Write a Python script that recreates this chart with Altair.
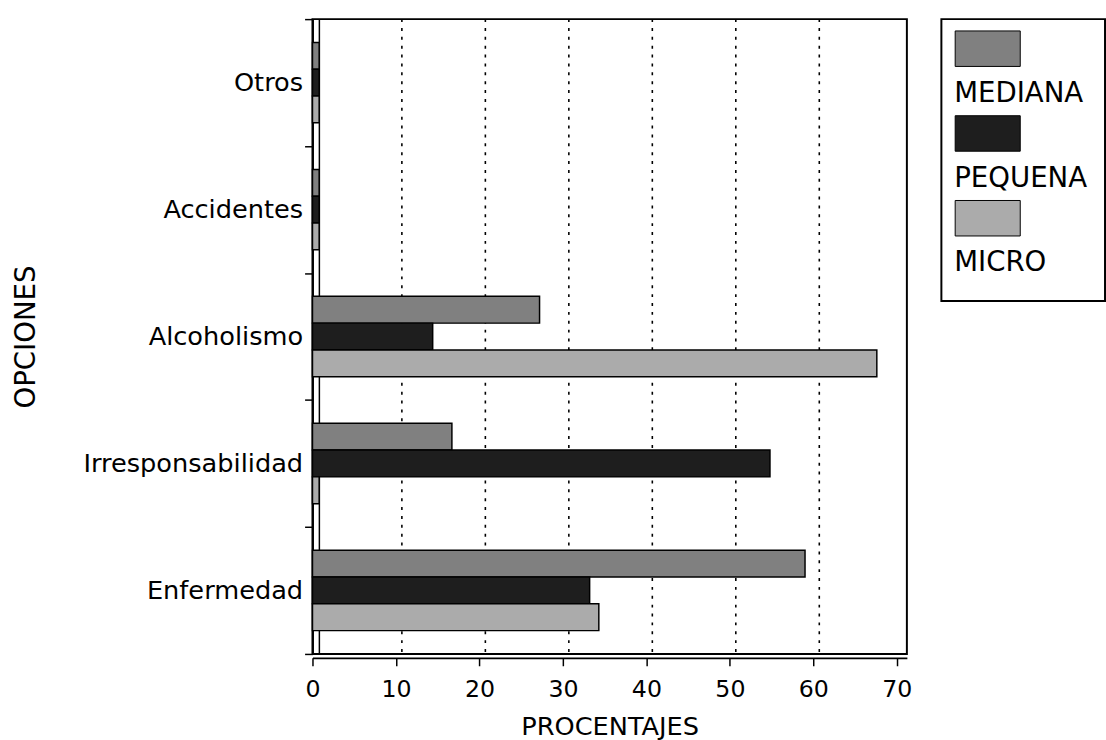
import altair as alt
import pandas as pd

# ---- data ----
categories = ["Otros", "Accidentes", "Alcoholismo", "Irresponsabilidad", "Enfermedad"]
series = ["MEDIANA", "PEQUENA", "MICRO"]
mediana = [0.8, 0.8, 27.2, 16.7, 59.0]
pequena = [0.8, 0.8, 14.4, 54.8, 33.2]
micro = [0.8, 0.8, 67.6, 0.8, 34.3]
x_ticks = [0, 10, 20, 30, 40, 50, 60, 70]
grid_values = [10, 20, 30, 40, 50, 60]
colors = ["#808080", "#1e1e1e", "#ababab"]

FONT = "DejaVu Sans"

rows = []
for s, vals in zip(series, [mediana, pequena, micro]):
    for c, v in zip(categories, vals):
        rows.append({"opcion": c, "serie": s, "pct": v})
df = pd.DataFrame(rows)

xscale = alt.Scale(domain=[0, 71.2], nice=False, zero=True)
color_scale = alt.Scale(domain=series, range=colors)

x_axis = alt.Axis(
    values=x_ticks,
    grid=False,
    title="PROCENTAJES",
    titleFont=FONT,
    titleFontSize=26,
    titleFontWeight="normal",
    titleColor="black",
    titlePadding=13,
    labelFont=FONT,
    labelFontSize=24,
    labelColor="black",
    labelPadding=12,
    labelFlush=False,
    tickSize=8,
    tickColor="black",
    tickWidth=1.5,
    domainColor="black",
    domainWidth=2,
    offset=4,
)

grid = alt.Chart(pd.DataFrame({"v": grid_values})).mark_rule(
    color="black", strokeDash=[3, 6], strokeWidth=1.6, xOffset=6
).encode(x=alt.X("v:Q", scale=xscale, axis=x_axis))

frame_left = alt.Chart(pd.DataFrame({"v": [0]})).mark_rule(
    color="black", strokeWidth=1.5, xOffset=7
).encode(x=alt.X("v:Q", scale=xscale, axis=x_axis))

bars = alt.Chart(df).mark_bar(stroke="black", strokeWidth=1.5).encode(
    y=alt.Y(
        "opcion:N",
        sort=categories,
        scale=alt.Scale(paddingInner=0, paddingOuter=0),
        axis=alt.Axis(
            title="OPCIONES",
            titleFont=FONT,
            titleFontSize=28,
            titleFontWeight="normal",
            titleColor="black",
            titleX=-290,
            titleBaseline="middle",
            labelFont=FONT,
            labelFontSize=26,
            labelColor="black",
            labelPadding=2,
            labelLimit=400,
            tickBand="extent",
            tickSize=8,
            tickColor="black",
            tickWidth=1.5,
            domainColor="black",
            domainWidth=2,
            offset=0,
        ),
    ),
    yOffset=alt.YOffset(
        "serie:N", sort=series, scale=alt.Scale(paddingInner=0, paddingOuter=0.87)
    ),
    x=alt.X("pct:Q", scale=xscale, axis=x_axis),
    color=alt.Color("serie:N", scale=color_scale, legend=None),
)

main = alt.layer(grid, frame_left, bars).properties(width=603, height=644)

# ---- custom legend (swatch above label) ----
leg_df = pd.DataFrame({"serie": series})
leg_y = alt.Scale(type="point", domain=series, range=[30, 202], padding=0)

swatch = alt.Chart(leg_df).mark_bar(height=36, stroke="black", strokeWidth=1).encode(
    y=alt.Y("serie:N", sort=series, scale=leg_y, axis=None),
    x=alt.value(14),
    x2=alt.value(80),
    color=alt.Color("serie:N", scale=color_scale, legend=None),
)
leg_text = alt.Chart(leg_df).mark_text(
    align="left", baseline="middle", dy=46, font=FONT, fontSize=28, color="black"
).encode(
    y=alt.Y("serie:N", sort=series, scale=leg_y, axis=None),
    x=alt.value(13),
    text="serie:N",
)
legend = alt.layer(swatch, leg_text).properties(width=166, height=286)

chart = (
    alt.hconcat(main, legend, spacing=27)
    .resolve_scale(y="independent", x="independent")
    .configure_view(stroke="black", strokeWidth=2)
    .properties(padding={"left": 12, "top": 0, "right": 0, "bottom": 0}, background="white")
)

chart.save("out.html", embed_options={"renderer": "svg", "actions": False})
